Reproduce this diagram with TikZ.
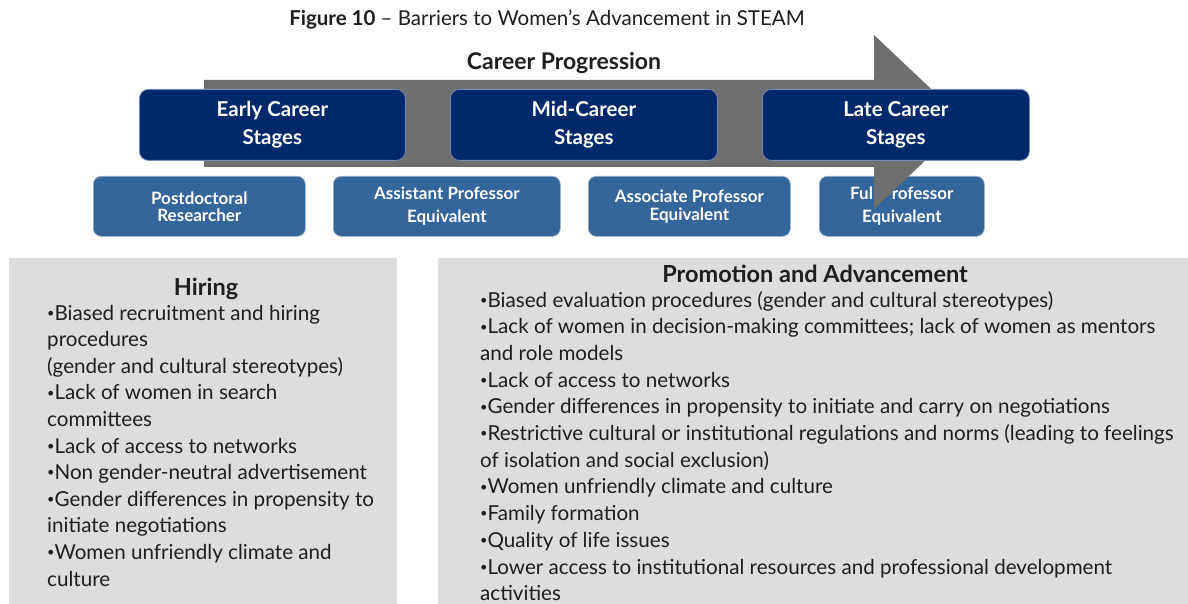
\documentclass[tikz,border=0pt]{standalone}
\usepackage{fontspec}
\usepackage{graphicx}
\setmainfont{Lato}
\definecolor{stageblue}{RGB}{0,41,107}
\definecolor{stageedge}{RGB}{120,140,185}
\definecolor{rankblue}{RGB}{52,102,153}
\definecolor{rankedge}{RGB}{150,175,205}
\definecolor{arrowgray}{RGB}{110,110,110}
\definecolor{panelgray}{RGB}{221,221,221}
\definecolor{bodytext}{RGB}{30,30,30}
% small list bullet
\newcommand\bul{\raisebox{0.25ex}{\scalebox{0.62}{•}}}
\begin{document}
\begin{tikzpicture}[x=1pt,y=-1pt,
  stagebox/.style={draw=stageedge, line width=0.8pt, fill=stageblue, rounded corners=9pt,
    text=white, font=\bfseries\fontsize{20.5}{28}\selectfont, align=center, inner sep=0pt},
  rankbox/.style={draw=rankedge, line width=0.6pt, fill=rankblue, rounded corners=8pt,
    text=white, font=\bfseries\fontsize{17}{#1}\selectfont, align=center, inner sep=0pt},
  panel/.style={fill=panelgray, draw=none},
  paneltitle/.style={font=\bfseries\fontsize{23.5}{26}\selectfont, text=bodytext, inner sep=0pt, anchor=base},
  listline/.style={font=\fontsize{20.6}{24}\selectfont, text=bodytext, inner sep=0pt, anchor=base west}
]
\useasboundingbox (0,0) rectangle (1188,604);
\fill[white] (0,0) rectangle (1188,604);

% figure caption
\node[font=\fontsize{20.5}{24}\selectfont, text=bodytext, inner sep=0pt, anchor=base] (caption) at (547,26)
  {\textbf{Figure 10} – Barriers to Women’s Advancement in STEAM};

% ranks along the career path
\node[rankbox=17, minimum width=212, minimum height=60, anchor=north west] (postdoc) at (93,176) {Postdoctoral\\Researcher};
\node[rankbox=23, minimum width=227, minimum height=60, anchor=north west] (assist) at (333,176) {Assistant Professor\\Equivalent};
\node[rankbox=18, minimum width=202, minimum height=60, anchor=north west] (assoc) at (588,176) {Associate Professor\\Equivalent};
\node[rankbox=23, minimum width=165, minimum height=60, anchor=north west] (full) at (819,176) {Full Professor\\Equivalent};

% career progression arrow
\coordinate (tailtop) at (204,80);
\coordinate (tailbot) at (204,167);
\coordinate (tip) at (966,122);
\fill[arrowgray] (tailtop) -- (874,80) -- (874,35) -- (tip) -- (874,209) -- (874,167) -- (tailbot) -- cycle;
\node[font=\bfseries\fontsize{23}{26}\selectfont, text=bodytext, inner sep=0pt, anchor=base] (progress) at (564,70) {Career Progression};

% career stages
\node[stagebox, minimum width=266, minimum height=71, anchor=north west] (early) at (139,89) {Early Career\\Stages};
\node[stagebox, minimum width=267, minimum height=71, anchor=north west] (mid) at (450,89) {Mid-Career\\Stages};
\node[stagebox, minimum width=267, minimum height=71, anchor=north west] (late) at (762,89) {Late Career\\Stages};

% barrier panels
\fill[panel] (9,258) rectangle (397,604);
\fill[panel] (438,258) rectangle (1188,604);

\node[paneltitle] (hiring) at (206,295) {Hiring};
\foreach \t [count=\i] in {
  {\bul Biased recruitment and hiring},
  {procedures},
  {(gender and cultural stereotypes)},
  {\bul Lack of women in search},
  {committees},
  {\bul Lack of access to networks},
  {\bul Non gender-neutral advertisement},
  {\bul Gender differences in propensity to},
  {initiate negotiations},
  {\bul Women unfriendly climate and},
  {culture}}
  \node[listline] (hire\i) at (47,{320+26.6*(\i-1)}) {\t};

\node[paneltitle] (promo) at (815,282) {Promotion and Advancement};
\foreach \t [count=\i] in {
  {\bul Biased evaluation procedures (gender and cultural stereotypes)},
  {\bul Lack of women in decision-making committees; lack of women as mentors},
  {and role models},
  {\bul Lack of access to networks},
  {\bul Gender differences in propensity to initiate and carry on negotiations},
  {\bul Restrictive cultural or institutional regulations and norms (leading to feelings},
  {of isolation and social exclusion)},
  {\bul Women unfriendly climate and culture},
  {\bul Family formation},
  {\bul Quality of life issues},
  {\bul Lower access to institutional resources and professional development},
  {activities}}
  \node[listline] (prom\i) at (480,{307+26.7*(\i-1)}) {\t};
\end{tikzpicture}
\end{document}
